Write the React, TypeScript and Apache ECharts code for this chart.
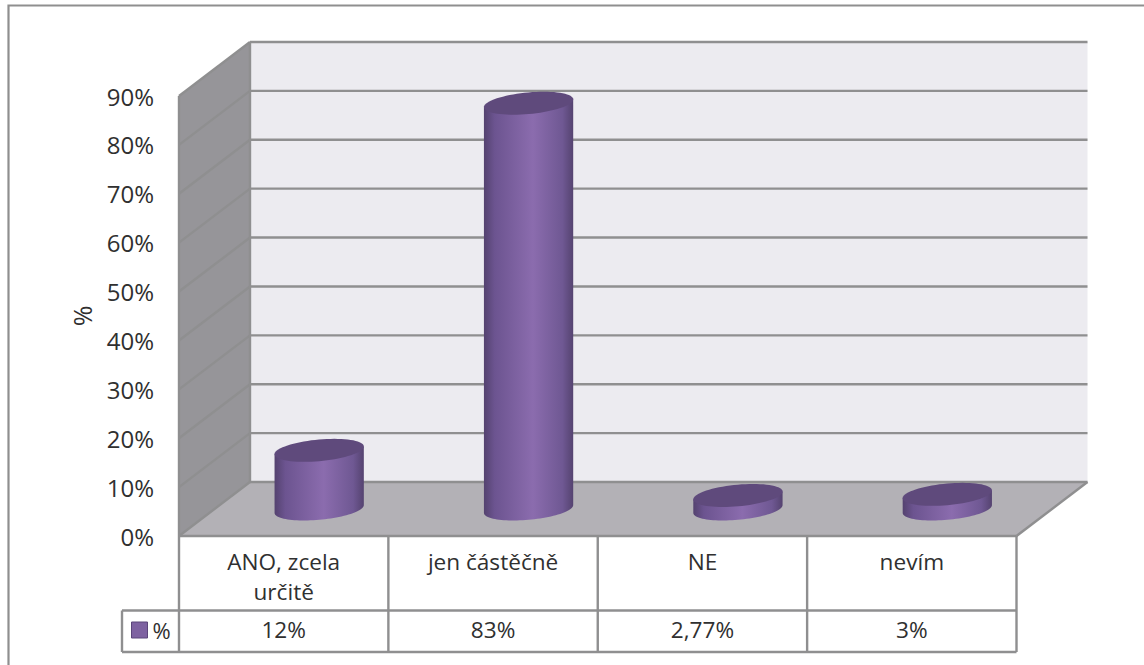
import React, { useEffect, useRef } from "react";
import * as echarts from "echarts";

const categories = ["ANO, zcela\nurčitě", "jen částěčně", "NE", "nevím"];
const seriesName = "%";
const values = [12, 83, 2.77, 3];
const valueLabels = ["12%", "83%", "2,77%", "3%"];
const yTicks = [0, 10, 20, 30, 40, 50, 60, 70, 80, 90];

const FONT = "'Open Sans', sans-serif";
const TEXT = "#303030";
const LINE = "#8f8f90";
const LINE_W = 2.4;
const DEPTH_X = 71;
const DEPTH_Y = -54;

// One floor-plane circle under the oblique projection: a sheared ellipse.
const RX = 42;
const RY = 11.5;
const SHEAR = (RY * DEPTH_X) / -DEPTH_Y;
const T0 = Math.atan2(SHEAR, RX);

const rim = (cx: number, cy: number, from: number, to: number, steps = 48) => {
  const pts: number[][] = [];
  for (let i = 0; i <= steps; i++) {
    const t = from + ((to - from) * i) / steps;
    pts.push([cx + RX * Math.cos(t) + SHEAR * Math.sin(t), cy - RY * Math.sin(t)]);
  }
  return pts;
};

const renderBackdrop = (params: any, api: any) => {
  const { x, y, width, height } = params.coordSys;
  const r = x + width;
  const b = y + height;
  const line = (x1: number, y1: number, x2: number, y2: number, z2 = 2) => ({
    type: "line",
    z2,
    shape: { x1, y1, x2, y2 },
    style: { stroke: LINE, lineWidth: LINE_W },
  });
  const poly = (points: number[][], fill: string) => ({
    type: "polygon",
    shape: { points },
    style: { fill },
  });
  const children: any[] = [
    poly([[x + DEPTH_X, y + DEPTH_Y], [r + DEPTH_X, y + DEPTH_Y], [r + DEPTH_X, b + DEPTH_Y], [x + DEPTH_X, b + DEPTH_Y]], "#ecebf0"),
    poly([[x, y], [x + DEPTH_X, y + DEPTH_Y], [x + DEPTH_X, b + DEPTH_Y], [x, b]], "#969599"),
    poly([[x, b], [x + DEPTH_X, b + DEPTH_Y], [r + DEPTH_X, b + DEPTH_Y], [r, b]], "#b3b1b6"),
  ];
  yTicks.forEach((tick) => {
    const ty = api.coord([0, tick])[1];
    children.push(line(x, ty, x + DEPTH_X, ty + DEPTH_Y));
    children.push(line(x + DEPTH_X, ty + DEPTH_Y, r + DEPTH_X, ty + DEPTH_Y));
  });
  // Right floor edge and the data table under the plot
  const rowTop = b + 74.5;
  const rowBottom = b + 116;
  const cellW = width / categories.length;
  children.push(line(x, y, x, rowBottom));
  children.push(line(x, b, r, b));
  children.push(line(r, b, r + DEPTH_X, b + DEPTH_Y));
  children.push(line(x + DEPTH_X, y + DEPTH_Y, x + DEPTH_X, b + DEPTH_Y));
  children.push(line(x - 57, rowTop, r, rowTop));
  children.push(line(x - 57, rowBottom, r, rowBottom));
  children.push(line(x - 57, rowTop, x - 57, rowBottom));
  categories.forEach((_, i) => {
    children.push(line(x + cellW * (i + 1), b, x + cellW * (i + 1), rowBottom));
  });
  return { type: "group", children };
};

const renderCylinder = (_params: any, api: any) => {
  const idx = api.value(0);
  const top = api.coord([idx, api.value(1)]);
  const base = api.coord([idx, 0]);
  const cx = top[0] + DEPTH_X / 2;
  const topY = top[1] + DEPTH_Y / 2;
  const baseY = base[1] + DEPTH_Y / 2;
  const edgeX = Math.hypot(RX, SHEAR);
  const edgeY = RY * Math.sin(T0);
  const body = [
    [cx + edgeX, topY - edgeY],
    ...rim(cx, baseY, T0, T0 - Math.PI),
    [cx - edgeX, topY + edgeY],
  ];
  return {
    type: "group",
    children: [
      {
        type: "polygon",
        shape: { points: body },
        style: {
          fill: new echarts.graphic.LinearGradient(0, 0, 1, 0, [
            { offset: 0, color: "#54426f" },
            { offset: 0.12, color: "#6c5490" },
            { offset: 0.55, color: "#8b6cae" },
            { offset: 0.88, color: "#6f5893" },
            { offset: 1, color: "#554370" },
          ]),
        },
      },
      {
        type: "polygon",
        z2: 2,
        shape: { points: rim(cx, topY, 0, Math.PI * 2, 72) },
        style: { fill: "#5f4a7c" },
      },
    ],
  };
};

export default function App() {
  const ref = useRef<HTMLDivElement>(null);

  useEffect(() => {
    document.body.style.margin = "0";
    const chart = echarts.init(ref.current!, null, { renderer: "svg" });
    chart.setOption({
      animation: false,
      backgroundColor: "#ffffff",
      textStyle: { fontFamily: FONT },
      grid: { left: 179, top: 96, width: 837.5, height: 440, containLabel: false },
      xAxis: [
        {
          type: "category",
          data: categories,
          position: "bottom",
          axisLine: { show: false },
          axisTick: { show: false },
          axisLabel: {
            interval: 0,
            margin: 10,
            color: TEXT,
            fontFamily: FONT,
            fontSize: 22.6,
            lineHeight: 30,
            verticalAlign: "top",
          },
        },
        {
          type: "category",
          data: valueLabels,
          position: "bottom",
          offset: 82,
          axisLine: { show: false },
          axisTick: { show: false },
          axisLabel: {
            interval: 0,
            margin: 0,
            color: TEXT,
            fontFamily: FONT,
            fontSize: 22.6,
            verticalAlign: "top",
          },
        },
      ],
      yAxis: {
        type: "value",
        min: 0,
        max: 90,
        interval: 10,
        name: seriesName,
        nameLocation: "middle",
        nameRotate: 90,
        nameGap: 85,
        nameTextStyle: { color: TEXT, fontFamily: FONT, fontSize: 25 },
        axisLine: { show: false },
        axisTick: { show: false },
        splitLine: { show: false },
        axisLabel: {
          margin: 25,
          color: TEXT,
          fontFamily: FONT,
          fontSize: 24,
          formatter: "{value}%",
        },
      },
      legend: {
        left: 126,
        top: 614,
        itemWidth: 16,
        itemHeight: 16,
        itemGap: 6,
        selectedMode: false,
        textStyle: { color: TEXT, fontFamily: FONT, fontSize: 22, padding: [0, 0, 10, 0] },
        data: [
          {
            name: seriesName,
            icon: "rect",
            itemStyle: { color: "#7e62a1", borderColor: "#5b467a", borderWidth: 1 },
          },
        ],
      },
      graphic: [
        {
          type: "polyline",
          silent: true,
          shape: { points: [[8.5, 665], [8.5, 5.5], [1144, 5.5]] },
          style: { stroke: "#8f8f8f", lineWidth: 2.2, fill: "none" },
        },
      ],
      series: [
        {
          type: "custom",
          name: "backdrop",
          xAxisIndex: 0,
          silent: true,
          z: 1,
          renderItem: renderBackdrop,
          data: [[0, 0]],
          encode: { x: 0, y: 1 },
        },
        {
          type: "custom",
          name: seriesName,
          xAxisIndex: 0,
          z: 2,
          itemStyle: { color: "#7e62a1" },
          renderItem: renderCylinder,
          data: values.map((v, i) => [i, v]),
          encode: { x: 0, y: 1 },
        },
      ],
    });
    return () => chart.dispose();
  }, []);

  return <div ref={ref} style={{ width: 1144, height: 665 }} />;
}
